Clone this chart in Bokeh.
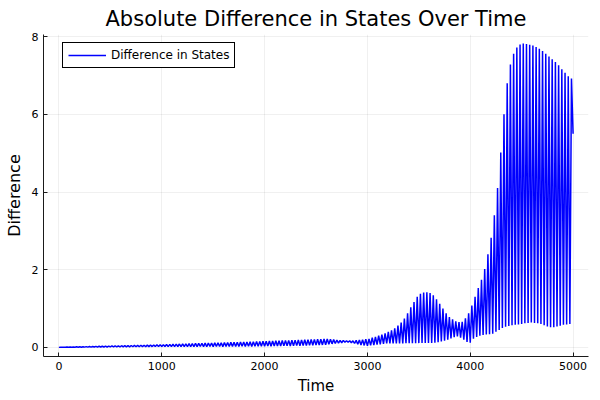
import numpy as np
from bokeh.plotting import figure
from bokeh.models import Range1d, Legend, LegendItem, FixedTicker
from bokeh.embed import file_html
from bokeh.resources import INLINE

# ---- data (alternating trough / peak of the oscillation) ----
half_period = 15.625  # time between a trough and the next peak

troughs = [
    # t 0 - 1000
    0.000, 0.001, 0.002, 0.002, 0.003, 0.004, 0.004, 0.005, 0.006, 0.006, 0.007, 0.008,
    0.008, 0.009, 0.010, 0.010, 0.011, 0.012, 0.012, 0.013, 0.014, 0.014, 0.015, 0.016,
    0.016, 0.017, 0.018, 0.018, 0.019, 0.020, 0.020, 0.021,
    # t 1000 - 2000
    0.021, 0.022, 0.020, 0.023, 0.021, 0.022, 0.018, 0.020, 0.022, 0.016, 0.021, 0.019,
    0.023, 0.020, 0.015, 0.022, 0.020, 0.024, 0.021, 0.019, 0.025, 0.022, 0.026, 0.020,
    0.024, 0.027, 0.022, 0.028, 0.025, 0.029, 0.026, 0.030,
    # t 2000 - 3000
    0.030, 0.032, 0.028, 0.034, 0.036, 0.033, 0.038, 0.040, 0.037, 0.042, 0.045, 0.043,
    0.048, 0.050, 0.052, 0.055, 0.058, 0.060, 0.063, 0.066, 0.080, 0.090, 0.100, 0.110,
    0.120, 0.130, 0.130, 0.120, 0.100, 0.080, 0.060, 0.050,
    # t 3000 - 4000
    0.04, 0.05, 0.06, 0.07, 0.08, 0.09, 0.10, 0.10, 0.10, 0.10, 0.10, 0.10,
    0.11, 0.11, 0.11, 0.11, 0.11, 0.11, 0.11, 0.11, 0.11, 0.12, 0.13, 0.15,
    0.17, 0.20, 0.23, 0.26, 0.28, 0.25, 0.20, 0.14,
    # t 4000 - 5000
    0.12, 0.22, 0.27, 0.30, 0.32, 0.33, 0.34, 0.35, 0.40, 0.45, 0.50, 0.53,
    0.55, 0.57, 0.58, 0.59, 0.60, 0.62, 0.63, 0.64, 0.63, 0.62, 0.60, 0.57,
    0.54, 0.52, 0.52, 0.54, 0.56, 0.58, 0.59, 0.60,
]

peaks = [
    # t 0 - 1000
    0.004, 0.006, 0.008, 0.010, 0.012, 0.014, 0.016, 0.018, 0.020, 0.022, 0.024, 0.026,
    0.028, 0.030, 0.032, 0.034, 0.036, 0.038, 0.040, 0.042, 0.044, 0.046, 0.048, 0.050,
    0.052, 0.054, 0.056, 0.058, 0.061, 0.063, 0.066, 0.069,
    # t 1000 - 2000
    0.070, 0.074, 0.077, 0.080, 0.083, 0.086, 0.089, 0.092, 0.095, 0.098, 0.101, 0.104,
    0.106, 0.109, 0.111, 0.114, 0.116, 0.119, 0.121, 0.124, 0.126, 0.129, 0.131, 0.134,
    0.136, 0.139, 0.141, 0.144, 0.147, 0.150, 0.153, 0.156,
    # t 2000 - 3000
    0.160, 0.163, 0.166, 0.169, 0.172, 0.175, 0.178, 0.181, 0.184, 0.187, 0.190, 0.193,
    0.196, 0.199, 0.202, 0.205, 0.208, 0.211, 0.215, 0.218, 0.210, 0.200, 0.190, 0.180,
    0.180, 0.170, 0.170, 0.170, 0.180, 0.190, 0.200, 0.210,
    # t 3000 - 4000
    0.22, 0.25, 0.27, 0.30, 0.33, 0.36, 0.40, 0.44, 0.49, 0.56, 0.64, 0.74,
    0.88, 1.03, 1.17, 1.30, 1.38, 1.41, 1.42, 1.40, 1.34, 1.24, 1.12, 1.00,
    0.88, 0.78, 0.72, 0.67, 0.65, 0.66, 0.75, 0.88,
    # t 4000 - 5000
    1.08, 1.30, 1.53, 1.74, 2.02, 2.40, 2.82, 3.40, 4.10, 5.02, 6.00, 6.80,
    7.28, 7.56, 7.72, 7.80, 7.82, 7.81, 7.79, 7.77, 7.73, 7.69, 7.63, 7.56,
    7.49, 7.42, 7.35, 7.26, 7.16, 7.07, 6.98, 6.92,
]

end_value = 5.5  # value at t = 5000

x_ticks = [0, 1000, 2000, 3000, 4000, 5000]
y_ticks = [0, 2, 4, 6, 8]

# ---- build the series ----
diff = []
for tr, pk in zip(troughs, peaks):
    diff.append(tr)
    diff.append(pk)
diff.append(end_value)
time = np.arange(len(diff)) * half_period

FONT = "DejaVu Sans"

p = figure(
    width=600, height=400,
    output_backend="svg", toolbar_location=None,
    x_range=Range1d(-150, 5150), y_range=Range1d(-0.235, 8.055),
    title="Absolute Difference in States Over Time",
    x_axis_label="Time", y_axis_label="Difference",
)
p.min_border_left = 43
p.min_border_right = 12
p.min_border_top = 30
p.min_border_bottom = 44
p.outline_line_color = None
p.background_fill_color = "white"
p.border_fill_color = "white"

p.title.text_font = FONT
p.title.text_font_size = "21px"
p.title.text_font_style = "normal"
p.title.align = "center"
p.title.text_color = "black"
p.title.text_line_height = 1.0
p.title.standoff = 8
p.title.offset = 0

p.xaxis.ticker = FixedTicker(ticks=x_ticks)
p.yaxis.ticker = FixedTicker(ticks=y_ticks)
for ax in (p.xaxis, p.yaxis):
    ax.major_label_text_font = FONT
    ax.major_label_text_font_size = "11px"
    ax.major_label_text_color = "black"
    ax.axis_label_text_font = FONT
    ax.axis_label_text_font_size = "15px"
    ax.axis_label_text_font_style = "normal"
    ax.axis_label_text_color = "black"
    ax.axis_line_color = "#1a1a1a"
    ax.major_tick_line_color = "#1a1a1a"
    ax.major_tick_in = 4
    ax.major_tick_out = 0
    ax.minor_tick_line_color = None
p.yaxis.axis_label_text_font_size = "16px"
p.xaxis.major_label_standoff = 5
p.xaxis.axis_label_standoff = 4
p.yaxis.major_label_standoff = 5
p.yaxis.axis_label_standoff = 5

p.grid.grid_line_color = "black"
p.grid.grid_line_alpha = 0.06
p.grid.grid_line_width = 1

r = p.line(time, diff, line_color="#0000ff", line_width=1.5)

legend = Legend(items=[LegendItem(label="Difference in States", renderers=[r])])
legend.location = (19, 288)
legend.label_text_font = FONT
legend.label_text_font_size = "12px"
legend.label_text_color = "black"
legend.border_line_color = "black"
legend.border_line_width = 1
legend.border_line_alpha = 1
legend.background_fill_alpha = 1
legend.glyph_width = 38
legend.glyph_height = 14
legend.label_height = 14
legend.label_standoff = 5
legend.padding = 5
legend.margin = 0
p.add_layout(legend)

open("out.html", "w").write(file_html(p, INLINE))
